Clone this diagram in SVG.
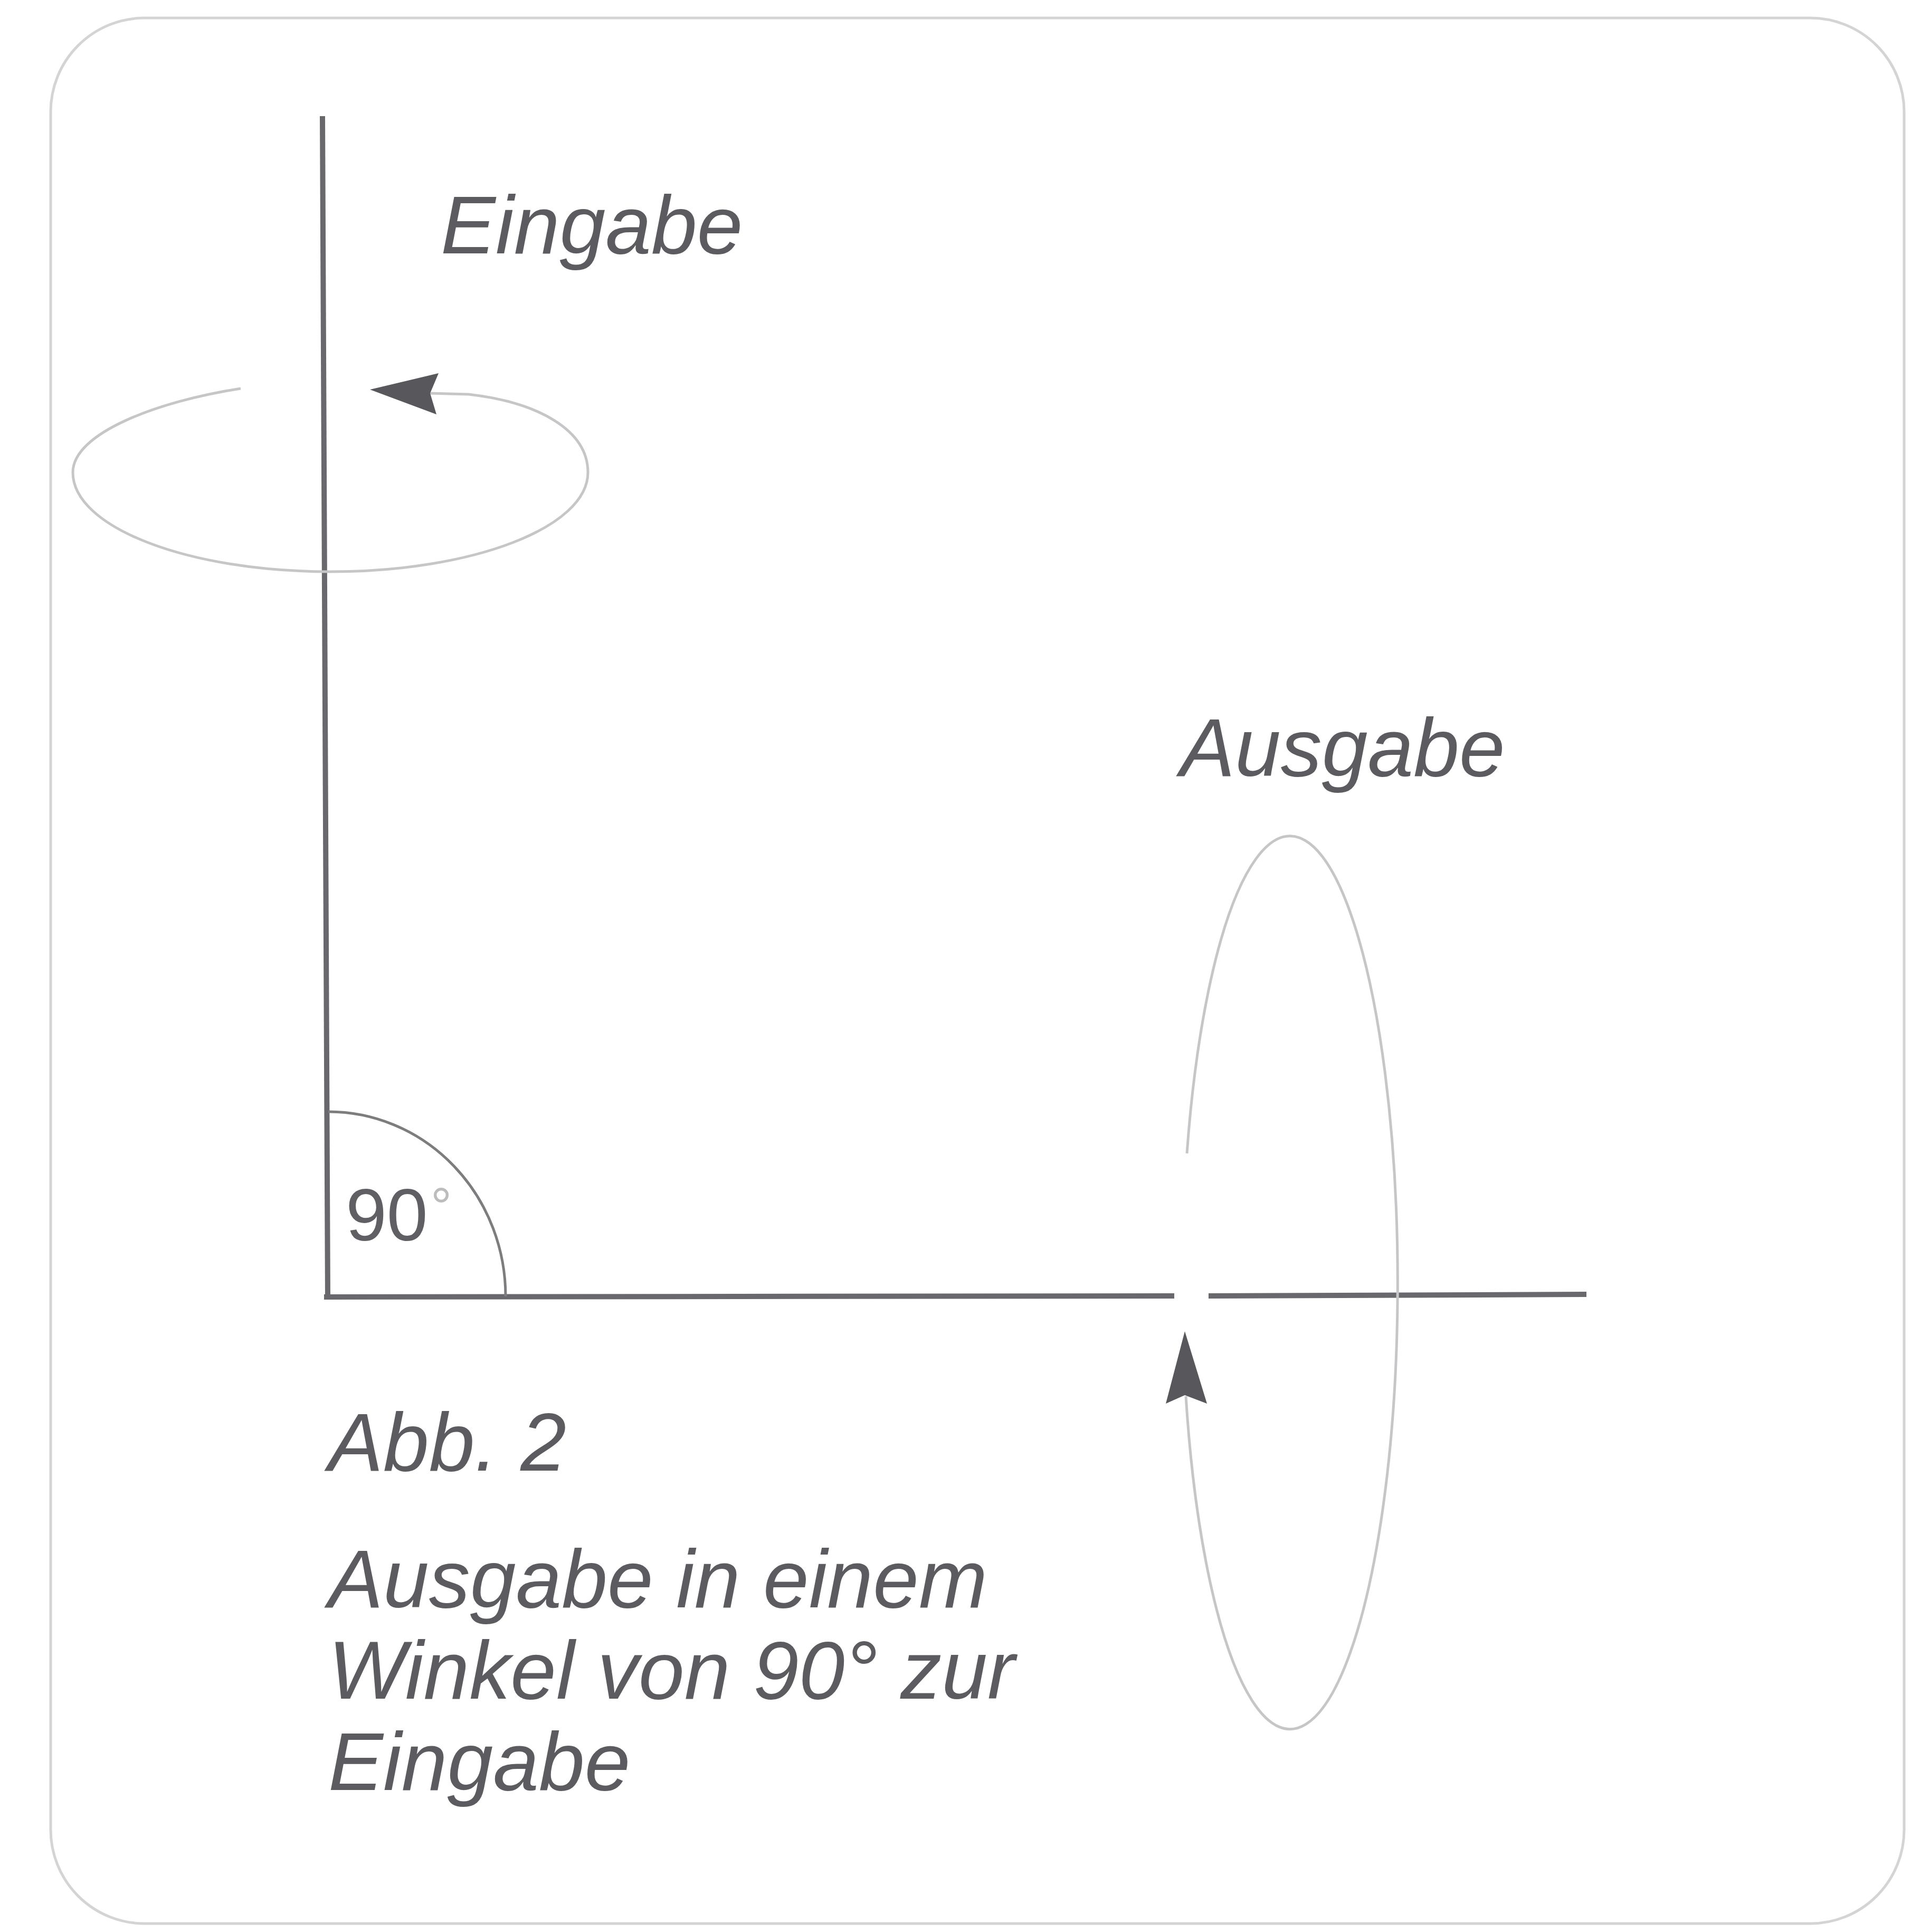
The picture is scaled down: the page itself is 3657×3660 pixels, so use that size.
<svg xmlns="http://www.w3.org/2000/svg" width="3657" height="3660" viewBox="0 0 3657 3660">
<style>
.lbl{font-family:"Liberation Sans",Arial,sans-serif;font-style:italic;font-size:156px;fill:#5c5c60}
.axis{stroke:#69696d;stroke-width:10;fill:none;stroke-linecap:butt}
.orbit{stroke:#c6c6c8;stroke-width:5;fill:none}
.head{fill:#58585c}
</style>
<rect width="3657" height="3660" fill="#ffffff"/>
<rect id="frame" x="96" y="34" width="3512" height="3610" rx="178" ry="178" fill="none" stroke="#d4d4d6" stroke-width="5"/>
<g id="connectors">
  <line class="axis" x1="611" y1="220" x2="621" y2="2460"/>
  <line class="axis" x1="614" y1="2457" x2="2225" y2="2455"/>
  <line class="axis" x1="2290" y1="2455" x2="3006" y2="2452"/>
  <path d="M622,2106 A336,350 0 0 1 958,2456" fill="none" stroke="#7d7d80" stroke-width="5"/>
</g>
<g id="input-rotation">
  <path class="orbit" d="M456,736 C300,760 138,820 138,895 C138,999 356,1083 626,1083 C896,1083 1114,999 1114,895 C1114,815 1020,762 888,747 L815,745"/>
  <polygon class="head" points="701,738 831,707 815,745 827,785"/>
</g>
<g id="output-rotation">
  <path class="orbit" d="M2249,2185 A204,846 0 1 1 2247,2645"/>
  <polygon class="head" points="2245,2522 2287,2659 2245,2643 2209,2659"/>
</g>
<g id="angle-label">
  <text x="655" y="2350" font-family="'Liberation Sans',Arial,sans-serif" font-size="140" fill="#606064">90<tspan x="816" y="2320" font-size="100" fill="#bcbcbe">°</tspan></text>
</g>
<g id="label-eingabe"><text class="lbl" x="835" y="480">Eingabe</text></g>
<g id="label-ausgabe"><text class="lbl" x="2236" y="1470">Ausgabe</text></g>
<g id="caption">
  <text class="lbl" x="622" y="2786">Abb. 2</text>
  <text class="lbl" x="622" y="3045">Ausgabe in einem</text>
  <text class="lbl" x="622" y="3218">Winkel von 90° zur</text>
  <text class="lbl" x="622" y="3391">Eingabe</text>
</g>
</svg>
